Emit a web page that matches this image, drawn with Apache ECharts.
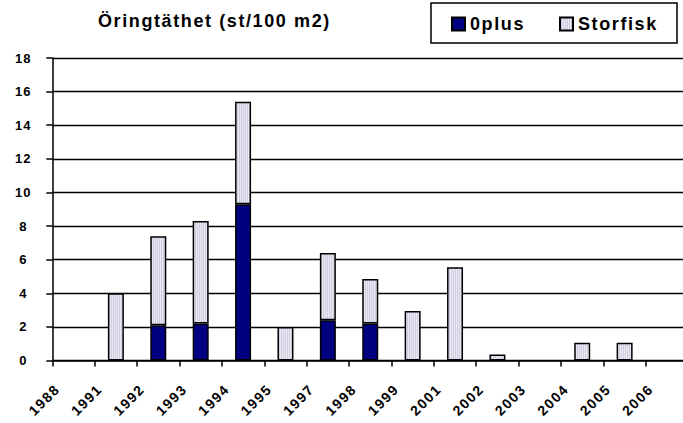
<!DOCTYPE html>
<html>
<head>
<meta charset="utf-8">
<script src="https://cdn.jsdelivr.net/npm/echarts@6/dist/echarts.min.js"></script>
<style>
  html, body { margin: 0; padding: 0; background: #fff; }
  #chart { width: 683px; height: 423px; }
</style>
</head>
<body>
<div id="chart"></div>
<script>
// Survey years on the category axis
const years = ['1988', '1991', '1992', '1993', '1994', '1995', '1997', '1998', '1999', '2001', '2002', '2003', '2004', '2005', '2006'];
// Trout density (individuals per 100 m2), young-of-the-year and older fish
const zeroPlus = [null, null, 2.1, 2.2, 9.3, null, 2.4, 2.2, null, null, null, null, null, null, null];
const storfisk = [null, 4.0, 5.3, 6.1, 6.1, 2.0, 4.0, 2.65, 2.95, 5.55, 0.35, null, 1.05, 1.05, null];
// Value axis range
const yMin = 0, yMax = 18, yStep = 2;

const FONT = "'Liberation Sans', Arial, sans-serif";

// Fine vertical stripes for the Storfisk fill
const stripeSvg = "<svg xmlns='http://www.w3.org/2000/svg' width='2' height='2'>" +
  "<rect width='1' height='2' fill='#e9e9f4'/><rect x='1' width='1' height='2' fill='#cfcfe1'/></svg>";
const stripeFill = {
  image: 'data:image/svg+xml;charset=utf-8,' + encodeURIComponent(stripeSvg),
  repeat: 'repeat',
  imageWidth: 2,
  imageHeight: 2
};

const chart = echarts.init(document.getElementById('chart'), null, { renderer: 'svg' });

chart.setOption({
  animation: false,
  backgroundColor: '#fff',
  title: {
    text: 'Öringtäthet (st/100 m2)',
    left: 98,
    top: 12,
    padding: 0,
    textStyle: { fontFamily: FONT, fontSize: 18, fontWeight: 'bold', color: '#000' }
  },
  graphic: [{
    type: 'rect',
    z: 0,
    shape: { x: 431, y: 3, width: 246, height: 40 },
    style: { fill: '#fff', stroke: '#000', lineWidth: 1.5 }
  }],
  legend: {
    data: ['0plus', 'Storfisk'],
    left: 451,
    top: 15,
    padding: 0,
    itemWidth: 13,
    itemHeight: 13,
    itemGap: 42,
    icon: 'rect',
    textStyle: { fontFamily: FONT, fontSize: 18, fontWeight: 'bold', color: '#000' }
  },
  grid: {
    left: 52.3,
    top: 58,
    width: 635.9,
    height: 302.5,
    containLabel: false,
    outerBoundsMode: 'none'
  },
  xAxis: {
    type: 'category',
    data: years,
    boundaryGap: true,
    axisLine: { show: true, lineStyle: { color: '#000', width: 1.5 } },
    axisTick: { show: true, length: 6, lineStyle: { color: '#000', width: 1.5 } },
    axisLabel: {
      interval: 0,
      rotate: 45,
      margin: 10,
      padding: [0, 23, 0, 0],
      fontFamily: FONT,
      fontSize: 14,
      fontWeight: 'bold',
      color: '#000'
    },
    splitLine: { show: false }
  },
  yAxis: {
    type: 'value',
    min: yMin,
    max: yMax,
    interval: yStep,
    axisLine: { show: true, lineStyle: { color: '#000', width: 1.5 } },
    axisTick: { show: true, length: 6, lineStyle: { color: '#000', width: 1.5 } },
    axisLabel: {
      align: 'center',
      margin: 29,
      fontFamily: FONT,
      fontSize: 13,
      fontWeight: 'bold',
      color: '#000'
    },
    splitLine: { show: true, lineStyle: { color: '#000', width: 1.3 } }
  },
  series: [
    {
      name: '0plus',
      type: 'bar',
      stack: 'density',
      data: zeroPlus,
      barWidth: 16,
      itemStyle: { color: '#000080', borderColor: '#000', borderWidth: 1.5 }
    },
    {
      name: 'Storfisk',
      type: 'bar',
      stack: 'density',
      data: storfisk,
      barWidth: 16,
      itemStyle: { color: stripeFill, borderColor: '#000', borderWidth: 1.5 }
    }
  ]
});

// Loosen the tracking of the bold lettering, size by size
function spaceLetters() {
  document.querySelectorAll('#chart svg text').forEach(function (t) {
    const fs = parseFloat(getComputedStyle(t).fontSize);
    const ls = fs >= 17 ? 1.6 : (fs >= 14 ? 1.5 : 1);
    t.style.letterSpacing = ls + 'px';
  });
}
chart.on('finished', spaceLetters);
spaceLetters();
</script>
</body>
</html>
